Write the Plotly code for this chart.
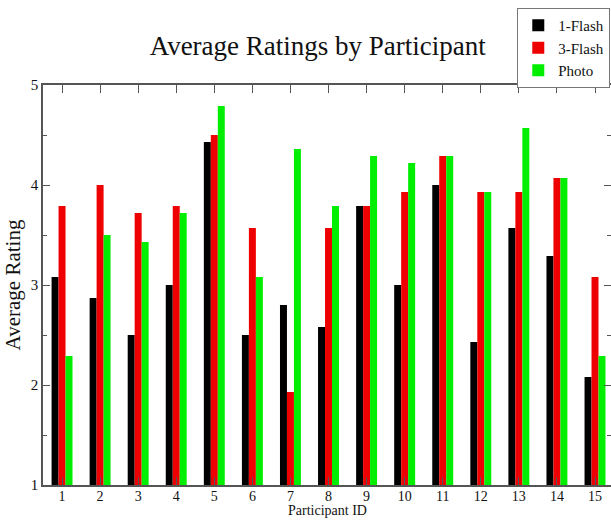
import plotly.graph_objects as go

participants = list(range(1, 16))
flash1 = [3.08, 2.87, 2.50, 3.00, 4.43, 2.50, 2.80, 2.58, 3.79, 3.00, 4.00, 2.43, 3.57, 3.29, 2.08]
flash3 = [3.79, 4.00, 3.72, 3.79, 4.50, 3.57, 1.93, 3.57, 3.79, 3.93, 4.29, 3.93, 3.93, 4.07, 3.08]
photo = [2.29, 3.50, 3.43, 3.72, 4.79, 3.08, 4.36, 3.79, 4.29, 4.22, 4.29, 3.93, 4.57, 4.07, 2.29]
series_names = ["1-Flash", "3-Flash", "Photo"]
colors = ["#000000", "#ee0000", "#00ee00"]

SERIF = "Liberation Serif, Times New Roman, serif"

fig = go.Figure()
for name, vals, col in zip(series_names, [flash1, flash3, photo], colors):
    fig.add_trace(go.Bar(x=participants, y=vals, name=name, marker=dict(color=col, line=dict(width=0))))

fig.update_layout(
    width=611, height=520,
    margin=dict(l=43, r=0, t=85, b=35, autoexpand=False),
    paper_bgcolor="white", plot_bgcolor="white",
    barmode="group", bargap=0.45, bargroupgap=0,
    font=dict(family=SERIF, color="#111111", size=14),
    title=dict(text="Average Ratings by Participant", x=0.52, xanchor="center",
               y=0.913, yanchor="middle", font=dict(family=SERIF, size=27, color="#111111")),
    legend=dict(x=0.835, y=1.1925, xanchor="left", yanchor="top",
                bordercolor="#777777", borderwidth=1, bgcolor="white",
                font=dict(family=SERIF, size=15, color="#111111"),
                itemwidth=30, tracegroupgap=0),
    showlegend=True,
    annotations=[dict(text="Participant ID", xref="paper", yref="paper",
                      x=0.5, y=-35 / 400, xanchor="center", yanchor="bottom",
                      showarrow=False, font=dict(family=SERIF, size=14, color="#111111"))],
)
fig.update_xaxes(
    range=[0.5, 15.42], tickvals=participants, ticktext=[str(p) for p in participants],
    ticks="inside", ticklen=8, tickcolor="#555555", mirror="ticks",
    showline=True, linecolor="#555555", linewidth=1.5, showgrid=False, zeroline=False,
    tickfont=dict(family=SERIF, size=14), automargin=False, ticklabelstandoff=-3,
)
fig.update_yaxes(
    range=[1, 5], tickvals=[1, 2, 3, 4, 5],
    ticks="inside", ticklen=7, tickcolor="#555555", mirror="ticks",
    minor=dict(ticks="inside", ticklen=4, dtick=0.5, tickcolor="#555555", showgrid=False),
    showline=True, linecolor="#555555", linewidth=1.5, showgrid=False, zeroline=False,
    title=dict(text="Average Rating", font=dict(family=SERIF, size=21), standoff=4),
    tickfont=dict(family=SERIF, size=15), automargin=False,
)
fig.write_html("out.html", config={"displayModeBar": False},
               post_script="document.body.style.margin='0';document.body.style.overflow='hidden';")
